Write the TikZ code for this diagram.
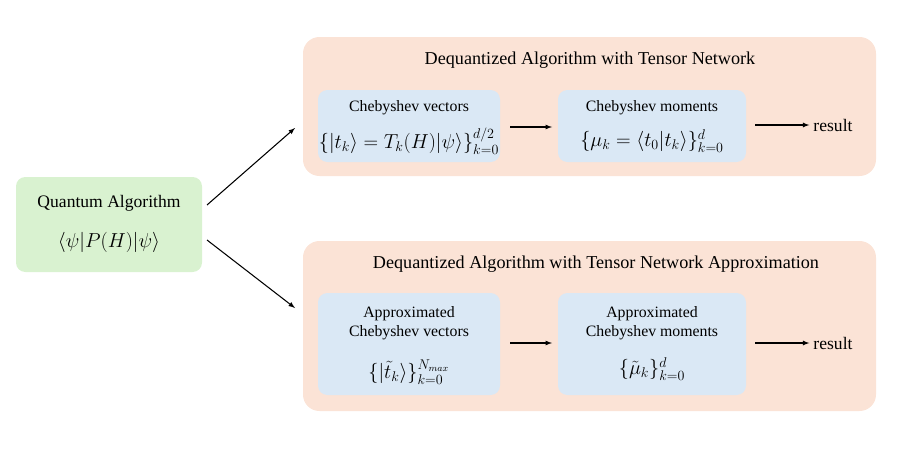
\documentclass[tikz,border=0pt]{standalone}
\usepackage{fontspec}
\setmainfont{Liberation Serif}
\usepackage{amsmath}
\begin{document}
\begin{tikzpicture}[x=0.03cm,y=-0.03cm,
  arr/.style={-latex, line width=0.9pt},
  txt/.style={font=\fontsize{13.5}{16}\selectfont, align=center},
  mth/.style={font=\fontsize{17}{20}\selectfont, align=center, inner sep=1pt}]
\definecolor{gbox}{HTML}{D9F2D0}
\definecolor{obox}{HTML}{FBE3D6}
\definecolor{bbox}{HTML}{DAE8F5}
\useasboundingbox (0,0) rectangle (897,449);
\fill[gbox, rounded corners=8pt] (16,177) rectangle (202,272);
\node[font=\fontsize{15}{18}\selectfont] (qa) at (109,203) {Quantum Algorithm};
\node[mth] (qe) at (109,242) {$\langle\psi|P(H)|\psi\rangle$};
\coordinate (g1) at (207,205);
\coordinate (g2) at (207,240);
\fill[obox, rounded corners=14pt] (303,37) rectangle (876,176);
\fill[obox, rounded corners=14pt] (303,241) rectangle (876,411);
\node[font=\fontsize{15.5}{18}\selectfont] (t1) at (590,60) {Dequantized Algorithm with Tensor Network};
\node[font=\fontsize{15.5}{18}\selectfont] (t2) at (596,264) {Dequantized Algorithm with Tensor Network Approximation};
\coordinate (a1) at (295,128);
\coordinate (a2) at (295,308);
\fill[bbox, rounded corners=8pt] (318,90) rectangle (500,162);
\fill[bbox, rounded corners=8pt] (558,90) rectangle (746,162);
\fill[bbox, rounded corners=8pt] (318,293) rectangle (500,395);
\fill[bbox, rounded corners=8pt] (558,293) rectangle (746,395);
\node[txt] (cv) at (409,108) {Chebyshev vectors};
\node[mth] (cvm) at (409,141) {$\{|t_k\rangle=T_k(H)|\psi\rangle\}_{k=0}^{d/2}$};
\node[txt] (cm) at (652,108) {Chebyshev moments};
\node[mth] (cmm) at (652,141) {$\{\mu_k=\langle t_0|t_k\rangle\}_{k=0}^{d}$};
\node[txt] (acv) at (409,323) {Approximated\\Chebyshev vectors};
\node[mth] (acvm) at (409,372) {$\{|\tilde t_k\rangle\}_{k=0}^{N_{max}}$};
\node[txt] (acm) at (652,323) {Approximated\\Chebyshev moments};
\node[mth] (acmm) at (652,369) {$\{\tilde\mu_k\}_{k=0}^{d}$};
\node[font=\fontsize{15}{18}\selectfont] (r1) at (833,125) {result};
\node[font=\fontsize{15}{18}\selectfont] (r2) at (833,343) {result};
\coordinate (b1s) at (510,127); \coordinate (b1e) at (552,127);
\coordinate (c1s) at (755,125);
\coordinate (b2s) at (510,343); \coordinate (b2e) at (552,343);
\coordinate (c2s) at (755,343);
\draw[arr] (g1) -- (a1);
\draw[arr] (g2) -- (a2);
\draw[arr] (b1s) -- (b1e);
\draw[arr] (b2s) -- (b2e);
\draw[arr] (c1s) -- (r1.west);
\draw[arr] (c2s) -- (r2.west);
\end{tikzpicture}
\end{document}
